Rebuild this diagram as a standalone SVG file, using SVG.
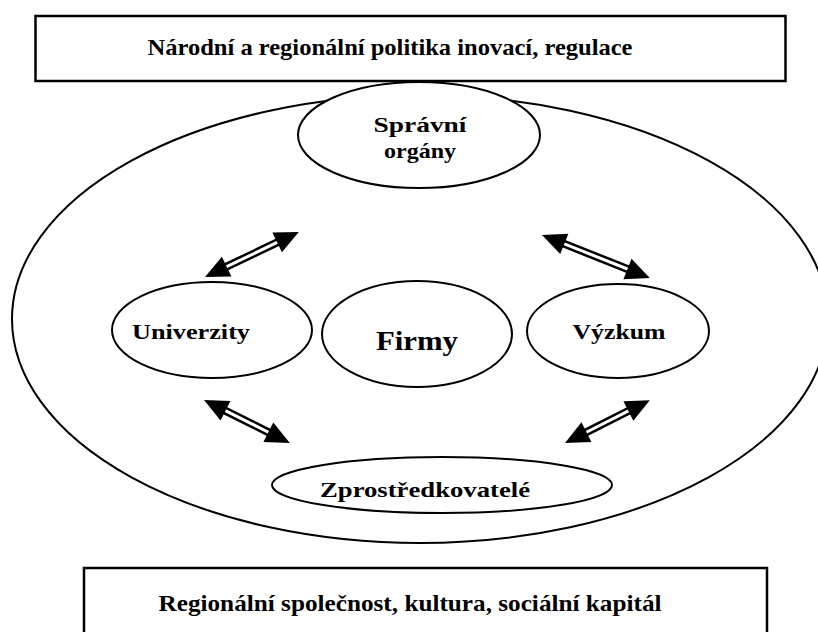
<svg xmlns="http://www.w3.org/2000/svg" width="818" height="632" viewBox="0 0 818 632">
<style>
.box{fill:#fff;stroke:#000;stroke-width:2.5}
.ell{fill:#fff;stroke:#000;stroke-width:2}
.t{font-family:"Liberation Serif","Times New Roman",serif;font-weight:bold;fill:#000;text-anchor:middle}
.shaft{stroke:#000;stroke-width:8;fill:none}
.inner{stroke:#fff;stroke-width:3;fill:none}
.head{fill:#000}
</style>
<rect width="818" height="632" fill="#fff"/>
<g id="top-box">
<rect class="box" x="35.5" y="16" width="750" height="65"/>
<text class="t" x="390" y="55" font-size="24" textLength="485" lengthAdjust="spacingAndGlyphs">Národní a regionální politika inovací, regulace</text>
</g>
<g id="region">
<ellipse class="ell" cx="420" cy="319" rx="408" ry="224"/>
</g>
<g id="bottom-box">
<rect class="box" x="84" y="568" width="683" height="80"/>
<text class="t" x="410" y="611" font-size="24" textLength="503" lengthAdjust="spacingAndGlyphs">Regionální společnost, kultura, sociální kapitál</text>
</g>
<g id="spravni">
<ellipse class="ell" cx="419" cy="135" rx="121" ry="53"/>
<text class="t" x="420" y="132" font-size="21" textLength="93" lengthAdjust="spacingAndGlyphs">Správní</text>
<text class="t" x="420" y="158" font-size="21" textLength="72" lengthAdjust="spacingAndGlyphs">orgány</text>
</g>
<g id="univerzity">
<ellipse class="ell" cx="212" cy="330" rx="100" ry="48"/>
<text class="t" x="191" y="339" font-size="21" textLength="118" lengthAdjust="spacingAndGlyphs">Univerzity</text>
</g>
<g id="firmy">
<ellipse class="ell" cx="417" cy="334" rx="95" ry="53"/>
<text class="t" x="417" y="350" font-size="28" textLength="82" lengthAdjust="spacingAndGlyphs">Firmy</text>
</g>
<g id="vyzkum">
<ellipse class="ell" cx="618" cy="331" rx="91" ry="47"/>
<text class="t" x="619" y="339" font-size="21" textLength="93" lengthAdjust="spacingAndGlyphs">Výzkum</text>
</g>
<g id="zprostredkovatele">
<ellipse class="ell" cx="442" cy="485" rx="170" ry="28"/>
<text class="t" x="425" y="497" font-size="21" textLength="210" lengthAdjust="spacingAndGlyphs">Zprostředkovatelé</text>
</g>
<g id="connectors">
<g transform="translate(205,277) rotate(-25.6)">
<line class="shaft" x1="18" y1="0" x2="86" y2="0"/>
<line class="inner" x1="20" y1="0" x2="84" y2="0"/>
<polygon class="head" points="0,0 24,-11 24,11"/>
<polygon class="head" points="104,0 80,-11 80,11"/>
</g>
<g transform="translate(542,235) rotate(21.7)">
<line class="shaft" x1="18" y1="0" x2="98" y2="0"/>
<line class="inner" x1="20" y1="0" x2="96" y2="0"/>
<polygon class="head" points="0,0 24,-11 24,11"/>
<polygon class="head" points="116,0 92,-11 92,11"/>
</g>
<g transform="translate(204,400) rotate(26.6)">
<line class="shaft" x1="18" y1="0" x2="78" y2="0"/>
<line class="inner" x1="20" y1="0" x2="76" y2="0"/>
<polygon class="head" points="0,0 24,-11 24,11"/>
<polygon class="head" points="96,0 72,-11 72,11"/>
</g>
<g transform="translate(565,443) rotate(-26.8)">
<line class="shaft" x1="18" y1="0" x2="77" y2="0"/>
<line class="inner" x1="20" y1="0" x2="75" y2="0"/>
<polygon class="head" points="0,0 24,-11 24,11"/>
<polygon class="head" points="95,0 71,-11 71,11"/>
</g>
</g>
</svg>
